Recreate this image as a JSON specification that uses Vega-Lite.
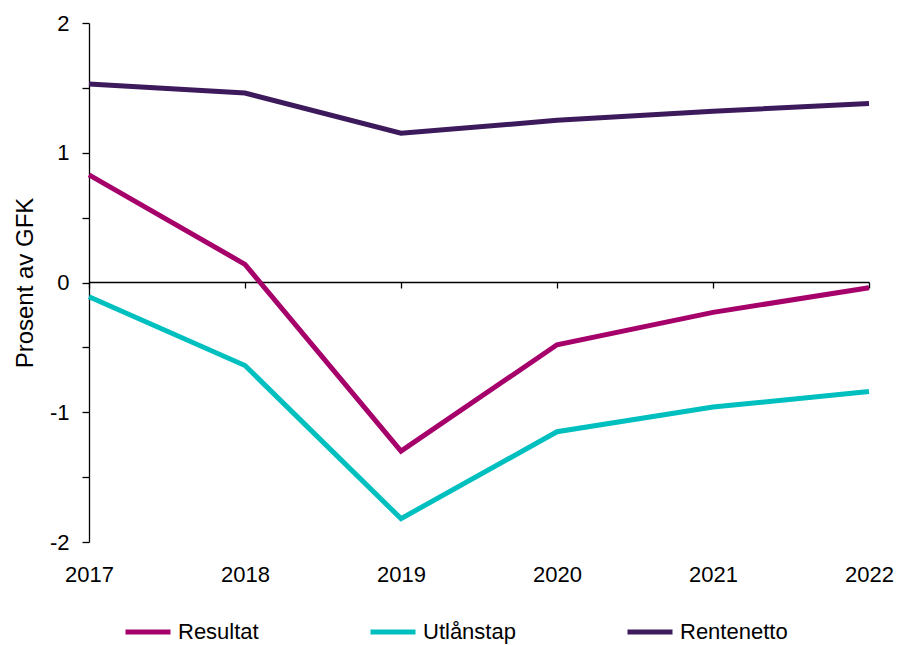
{
  "$schema": "https://vega.github.io/schema/vega-lite/v6.json",
  "width": 780,
  "height": 519,
  "autosize": {"type": "none"},
  "padding": {"left": 89, "top": 23, "right": 31, "bottom": 103},
  "background": "white",
  "config": {
    "view": {"stroke": null},
    "font": "Liberation Sans"
  },
  "data": {
    "values": [
      {"year": 2017, "series": "Resultat", "value": 0.83},
      {"year": 2018, "series": "Resultat", "value": 0.14},
      {"year": 2019, "series": "Resultat", "value": -1.30},
      {"year": 2020, "series": "Resultat", "value": -0.48},
      {"year": 2021, "series": "Resultat", "value": -0.23},
      {"year": 2022, "series": "Resultat", "value": -0.04},
      {"year": 2017, "series": "Utlånstap", "value": -0.11},
      {"year": 2018, "series": "Utlånstap", "value": -0.64},
      {"year": 2019, "series": "Utlånstap", "value": -1.82},
      {"year": 2020, "series": "Utlånstap", "value": -1.15},
      {"year": 2021, "series": "Utlånstap", "value": -0.96},
      {"year": 2022, "series": "Utlånstap", "value": -0.84},
      {"year": 2017, "series": "Rentenetto", "value": 1.53},
      {"year": 2018, "series": "Rentenetto", "value": 1.46},
      {"year": 2019, "series": "Rentenetto", "value": 1.15},
      {"year": 2020, "series": "Rentenetto", "value": 1.25},
      {"year": 2021, "series": "Rentenetto", "value": 1.32},
      {"year": 2022, "series": "Rentenetto", "value": 1.38}
    ]
  },
  "mark": {"type": "line", "strokeWidth": 5, "strokeJoin": "miter"},
  "encoding": {
    "x": {
      "field": "year",
      "type": "quantitative",
      "scale": {"domain": [2017, 2022], "nice": false, "zero": false},
      "axis": {
        "values": [2017, 2018, 2019, 2020, 2021, 2022],
        "format": "d",
        "title": null,
        "grid": false,
        "offset": -260,
        "domainColor": "black",
        "domainWidth": 1.3,
        "tickColor": "black",
        "tickWidth": 1.3,
        "tickSize": 6,
        "labelPadding": 276,
        "labelFontSize": 22,
        "labelColor": "black",
        "labelFlush": false
      }
    },
    "y": {
      "field": "value",
      "type": "quantitative",
      "scale": {"domain": [-2, 2], "nice": false},
      "axis": {
        "values": [-2, -1.5, -1, -0.5, 0, 0.5, 1, 1.5, 2],
        "labelExpr": "datum.value % 1 === 0 ? '' + datum.value : ''",
        "title": "Prosent av GFK",
        "titleFontSize": 24,
        "titleFontWeight": "normal",
        "titleColor": "black",
        "titlePadding": 12,
        "grid": false,
        "domainColor": "black",
        "domainWidth": 1.3,
        "tickColor": "black",
        "tickWidth": 1.3,
        "tickSize": 7,
        "labelPadding": 13,
        "labelFontSize": 22,
        "labelColor": "black"
      }
    },
    "color": {
      "field": "series",
      "type": "nominal",
      "scale": {
        "domain": ["Resultat", "Utlånstap", "Rentenetto"],
        "range": ["#A6006B", "#00BFBF", "#3C1A5B"]
      },
      "legend": {
        "title": null,
        "orient": "none",
        "legendX": 34,
        "legendY": 584,
        "direction": "horizontal",
        "columns": 3,
        "columnPadding": 101,
        "symbolType": "stroke",
        "symbolSize": 2025,
        "symbolStrokeWidth": 5,
        "labelFontSize": 22,
        "labelColor": "black",
        "labelOffset": 5
      }
    }
  }
}
